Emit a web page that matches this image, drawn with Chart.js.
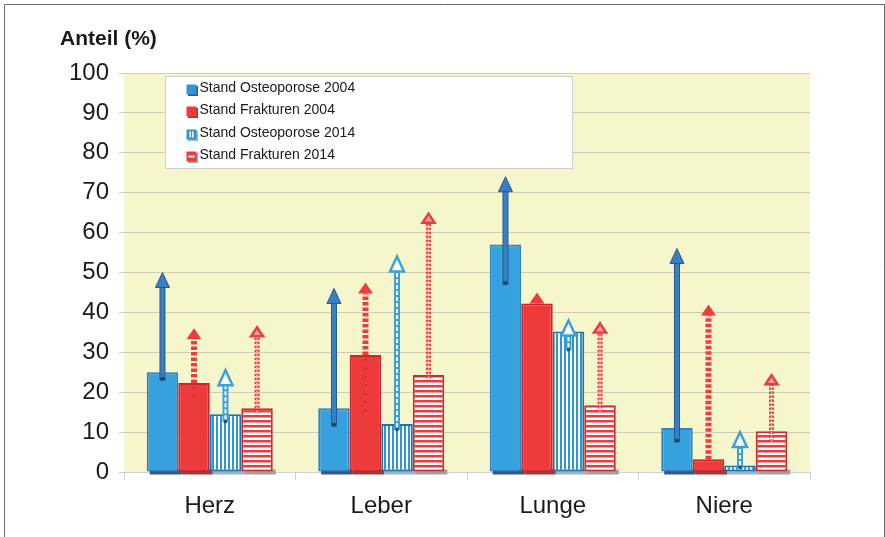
<!DOCTYPE html>
<html>
<head>
<meta charset="utf-8">
<script src="https://cdn.jsdelivr.net/npm/chart.js@4/dist/chart.umd.min.js"></script>
<style>
html,body{margin:0;padding:0;background:#fff;}
#wrap{width:885px;height:537px;position:relative;}
</style>
</head>
<body>
<div id="wrap"><canvas id="c" width="885" height="537"></canvas></div>
<script>
// ---- data ----
const categories = ['Herz', 'Leber', 'Lunge', 'Niere'];
const seriesNames = ['Stand Osteoporose 2004', 'Stand Frakturen 2004', 'Stand Osteoporose 2014', 'Stand Frakturen 2014'];
const yAxisTitle = 'Anteil (%)';

const osteo2004 = [25, 16, 57, 11];
const frakt2004 = [22.3, 29.3, 42.2, 3.2];
const osteo2014 = [14.5, 12, 35.2, 1.6];
const frakt2014 = [16, 24.3, 16.7, 10.2];

// arrows (range from -> to, in %)
const osteo2004ArrowFrom = [23, 11.5, 47, 7.5];
const osteo2004ArrowTo   = [50, 46, 74, 56];
const frakt2004ArrowFrom = [17, 15, 42.2, 3.2];
const frakt2004ArrowTo   = [36, 47.5, 45, 42];
const osteo2014ArrowFrom = [12.5, 10.5, 30.5, 1];
const osteo2014ArrowTo   = [25.5, 54, 38, 10];
const frakt2014ArrowFrom = [15, 23.5, 15, 7.5];
const frakt2014ArrowTo   = [36.5, 65, 37.5, 24.5];

const FONT = '"Liberation Sans", Arial, Helvetica, sans-serif';

function stripePattern(dir, color) {
  const c = document.createElement('canvas');
  const p = dir === 'v' ? 4 : 5;
  c.width = p; c.height = p;
  const g = c.getContext('2d');
  g.fillStyle = '#ffffff'; g.fillRect(0, 0, p, p);
  g.fillStyle = color;
  if (dir === 'v') g.fillRect(0, 0, 2, p); else g.fillRect(0, 0, p, 2.5);
  return g.createPattern(c, 'repeat');
}
const vPat = stripePattern('v', '#2f95d6');
const hPat = stripePattern('h', '#ec3b3f');

const datasets = [
  {label: seriesNames[0], data: osteo2004, backgroundColor: '#36a2dd', borderColor: '#3380c2',
   arrowFrom: osteo2004ArrowFrom, arrowTo: osteo2004ArrowTo, arrowStyle: 'solid', shadow: '#35578a', icon: '#2f95d6'},
  {label: seriesNames[1], data: frakt2004, backgroundColor: '#ee3a3b', borderColor: '#c9252c',
   arrowFrom: frakt2004ArrowFrom, arrowTo: frakt2004ArrowTo, arrowStyle: 'dashed', shadow: '#9a3a3c', icon: '#ec3b3f'},
  {label: seriesNames[2], data: osteo2014, backgroundColor: vPat, borderColor: '#1e72b7',
   arrowFrom: osteo2014ArrowFrom, arrowTo: osteo2014ArrowTo, arrowStyle: 'hollow', shadow: '#9cb3c6', icon: '#2f95d6'},
  {label: seriesNames[3], data: frakt2014, backgroundColor: hPat, borderColor: '#cf2a30',
   arrowFrom: frakt2014ArrowFrom, arrowTo: frakt2014ArrowTo, arrowStyle: 'dotted', shadow: '#a0a0a0', icon: '#ec3b3f'}
];
datasets.forEach(d => { d.borderWidth = 2; d.borderSkipped = false; d.categoryPercentage = 0.735; d.barPercentage = 1.0; });

function drawArrow(ctx, x, yFrom, yTo, yBar, style) {
  ctx.save();
  ctx.lineCap = 'butt';
  if (style === 'solid') {
    const hl = 15, hw = 7;
    ctx.fillStyle = '#3b7fc3';
    ctx.strokeStyle = '#27598f';
    ctx.lineWidth = 1;
    ctx.beginPath(); ctx.rect(x - 2.5, yTo + hl - 1, 5, yFrom - (yTo + hl - 1)); ctx.fill(); ctx.stroke();
    ctx.beginPath(); ctx.moveTo(x - hw, yTo + hl); ctx.lineTo(x, yTo); ctx.lineTo(x + hw, yTo + hl); ctx.closePath();
    ctx.fill(); ctx.stroke();
    ctx.fillStyle = '#1d3f66'; ctx.fillRect(x - 2, yFrom - 3, 4, 3);
  } else if (style === 'dashed') {
    const hl = 11, hw = 7.5;
    ctx.strokeStyle = '#ef3b3b';
    ctx.lineWidth = 6;
    ctx.setLineDash([3.5, 2]);
    ctx.beginPath(); ctx.moveTo(x, yBar); ctx.lineTo(x, yTo + hl); ctx.stroke();
    if (yFrom > yBar + 2) {
      ctx.strokeStyle = '#8a2a2a'; ctx.lineWidth = 1.5; ctx.setLineDash([1.5, 7]);
      ctx.beginPath(); ctx.moveTo(x, yBar + 4); ctx.lineTo(x, yFrom); ctx.stroke();
    }
    ctx.setLineDash([]);
    ctx.fillStyle = '#ef3b3b';
    ctx.beginPath(); ctx.moveTo(x - hw, yTo + hl); ctx.lineTo(x, yTo); ctx.lineTo(x + hw, yTo + hl); ctx.closePath(); ctx.fill();
  } else if (style === 'hollow') {
    const hl = 15, hw = 7;
    ctx.strokeStyle = '#3aa2d8';
    ctx.lineWidth = 6;
    ctx.beginPath(); ctx.moveTo(x, yFrom); ctx.lineTo(x, yTo + hl); ctx.stroke();
    ctx.strokeStyle = '#ffffff'; ctx.lineWidth = 2; ctx.setLineDash([4, 2]);
    ctx.beginPath(); ctx.moveTo(x, yFrom - 3); ctx.lineTo(x, yTo + hl); ctx.stroke();
    ctx.setLineDash([]);
    ctx.fillStyle = '#ffffff'; ctx.strokeStyle = '#3aa2d8'; ctx.lineWidth = 2.5;
    ctx.beginPath(); ctx.moveTo(x - hw, yTo + hl); ctx.lineTo(x, yTo); ctx.lineTo(x + hw, yTo + hl); ctx.closePath();
    ctx.fill(); ctx.stroke();
    ctx.fillStyle = '#1d4f80'; ctx.fillRect(x - 1.5, yFrom - 2, 3, 3);
  } else {
    const hl = 10, hw = 6;
    ctx.strokeStyle = '#ee3b3f';
    ctx.lineWidth = 5;
    ctx.setLineDash([2.5, 1.5]);
    ctx.beginPath(); ctx.moveTo(x, yFrom); ctx.lineTo(x, yTo + hl); ctx.stroke();
    ctx.strokeStyle = '#ffffff'; ctx.lineWidth = 1.2; ctx.setLineDash([1.5, 2.5]);
    ctx.beginPath(); ctx.moveTo(x, yFrom); ctx.lineTo(x, yTo + hl); ctx.stroke();
    ctx.setLineDash([]);
    ctx.strokeStyle = '#ee3b3f'; ctx.fillStyle = '#f7a0a0'; ctx.lineWidth = 2.5;
    ctx.beginPath(); ctx.moveTo(x - hw, yTo + hl); ctx.lineTo(x, yTo + 1); ctx.lineTo(x + hw, yTo + hl); ctx.closePath();
    ctx.fill(); ctx.stroke();
  }
  ctx.restore();
}

const decor = {
  id: 'decor',
  beforeDraw(chart) {
    const {ctx, chartArea: a, width, height} = chart;
    ctx.save();
    ctx.fillStyle = '#ffffff'; ctx.fillRect(0, 0, width, height);
    ctx.fillStyle = '#f6f6cd'; ctx.fillRect(a.left, a.top, a.right - a.left, a.bottom - a.top);
    ctx.strokeStyle = '#6a6a6a'; ctx.lineWidth = 1;
    ctx.beginPath();
    ctx.moveTo(4.5, height); ctx.lineTo(4.5, 4.5); ctx.lineTo(884.5, 4.5); ctx.lineTo(884.5, height);
    ctx.stroke();
    ctx.fillStyle = '#1a1a1a';
    ctx.font = 'bold 21px ' + FONT;
    ctx.textBaseline = 'alphabetic'; ctx.textAlign = 'left';
    ctx.fillText(yAxisTitle, 60, 45);
    ctx.restore();
  },
  beforeDatasetsDraw(chart) {
    const {ctx} = chart;
    ctx.save();
    chart.data.datasets.forEach((ds, i) => {
      chart.getDatasetMeta(i).data.forEach(el => {
        const p = el.getProps(['x', 'base', 'width'], true);
        ctx.fillStyle = ds.shadow;
        ctx.fillRect(p.x - p.width / 2 + 3, p.base - 2, p.width, 5);
      });
    });
    ctx.restore();
  },
  afterDatasetsDraw(chart) {
    const {ctx} = chart;
    const ys = chart.scales.y;
    chart.data.datasets.forEach((ds, i) => {
      chart.getDatasetMeta(i).data.forEach((el, j) => {
        drawArrow(ctx, el.x, ys.getPixelForValue(ds.arrowFrom[j]), ys.getPixelForValue(ds.arrowTo[j]),
                  ys.getPixelForValue(ds.data[j]), ds.arrowStyle);
      });
    });
  },
  afterDraw(chart) {
    const {ctx, chartArea: a} = chart;
    ctx.save();
    const bx = a.left + 41.5, by = a.top + 3.5, bw = 407, bh = 92;
    ctx.fillStyle = '#ffffff'; ctx.fillRect(bx, by, bw, bh);
    ctx.strokeStyle = '#cfcfcf'; ctx.lineWidth = 1; ctx.strokeRect(bx, by, bw, bh);
    const rows = [12, 34, 57, 79];
    chart.data.datasets.forEach((ds, i) => {
      const cy = by + rows[i];
      const ix = bx + 21, iy = cy - 4;
      ctx.fillStyle = ds.shadow; ctx.fillRect(ix + 1.5, iy + 1.5, 10, 10);
      ctx.fillStyle = ds.icon; ctx.fillRect(ix, iy, 10, 10);
      if (i === 2) { ctx.fillStyle = '#fff'; ctx.fillRect(ix + 3, iy + 2, 1.5, 6); ctx.fillRect(ix + 5.5, iy + 2, 1.5, 6); }
      if (i === 3) { ctx.fillStyle = '#fff'; ctx.fillRect(ix + 2, iy + 4, 6, 2); }
      ctx.fillStyle = '#1a1a1a';
      ctx.font = '14px ' + FONT;
      ctx.textBaseline = 'middle'; ctx.textAlign = 'left';
      ctx.fillText(ds.label, bx + 34, cy);
    });
    ctx.restore();
  }
};

new Chart(document.getElementById('c'), {
  type: 'bar',
  data: {labels: categories, datasets: datasets},
  options: {
    responsive: false,
    animation: false,
    layout: {padding: {left: 0, right: 75, top: 73, bottom: 0}},
    plugins: {legend: {display: false}, tooltip: {enabled: false}},
    scales: {
      x: {
        grid: {drawOnChartArea: false, drawTicks: true, tickLength: 8, color: '#d2d2d2', offset: true},
        border: {display: true, color: '#d2d2d2'},
        ticks: {font: {family: FONT, size: 24}, color: '#1a1a1a', padding: 12},
        afterFit(s) { s.height = 65; }
      },
      y: {
        min: 0, max: 100,
        grid: {color: '#d0ceb0', tickLength: 5},
        border: {display: false},
        ticks: {stepSize: 10, font: {family: FONT, size: 24}, color: '#1a1a1a', padding: 10},
        afterFit(s) { s.width = 124; }
      }
    }
  },
  plugins: [decor]
});
</script>
</body>
</html>
